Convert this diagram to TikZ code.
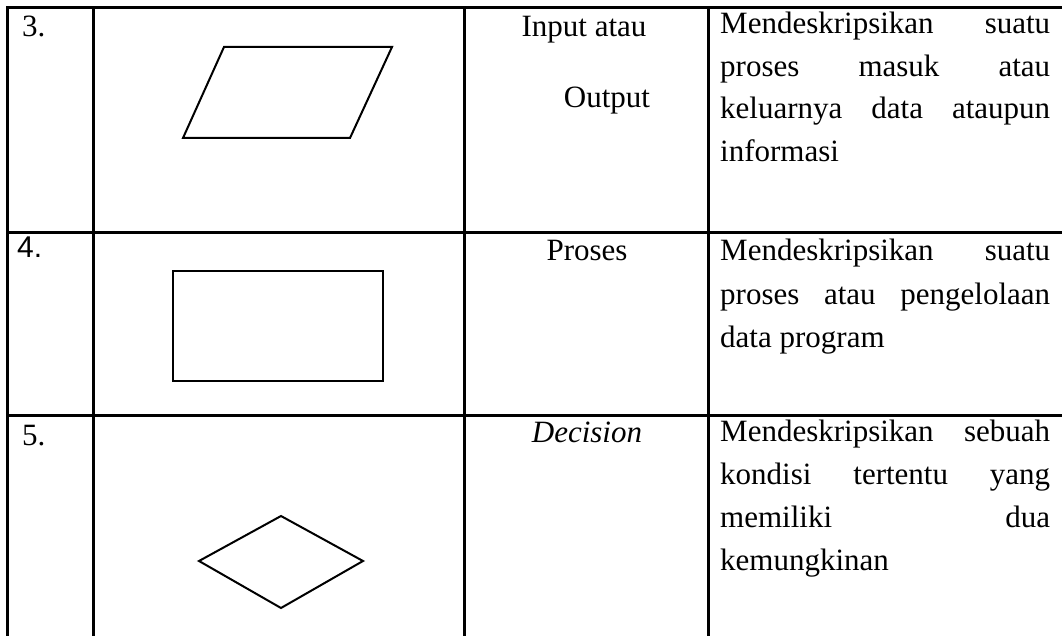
\documentclass[tikz,border=0pt]{standalone}
\usepackage{fontspec}
\setmainfont{Liberation Serif}
\newfontfamily\arialfont{Liberation Sans}
\begin{document}
\begin{tikzpicture}[x=1pt,y=-1pt,
  grid/.style={line width=3pt,line cap=rect},
  shapeline/.style={line width=2pt,line join=miter},
  txt/.style={inner sep=0pt,font=\fontsize{31}{43}\selectfont},
  numtxt/.style={txt,anchor=base west},
  ctxt/.style={txt,anchor=base},
  desc/.style={txt,anchor=base west}]
\useasboundingbox (0,0) rectangle (1062,636);
% table grid
\draw[grid] (7,8) -- (1064,8);
\draw[grid] (7,233) -- (1064,233);
\draw[grid] (7,415) -- (1064,415);
\draw[grid] (7,8) -- (7,640);
\draw[grid] (93,8) -- (93,640);
\draw[grid] (464,8) -- (464,640);
\draw[grid] (708,8) -- (708,640);
% column 1
\node[numtxt] (n3) at (22,37) {3.};
\node[numtxt,font=\arialfont\fontsize{30}{40}\selectfont] (n4) at (17,258) {4.};
\node[numtxt] (n5) at (22,445) {5.};
% column 2 shapes
\coordinate (p1) at (224,47);
\coordinate (p2) at (392,47);
\coordinate (p3) at (350,138);
\coordinate (p4) at (183,138);
\draw[shapeline] (p1) -- (p2) -- (p3) -- (p4) -- cycle;
\coordinate (r1) at (173,271);
\coordinate (r2) at (383,381);
\draw[shapeline] (r1) rectangle (r2);
\coordinate (d1) at (199,561);
\coordinate (d2) at (281,516);
\coordinate (d3) at (363,561);
\coordinate (d4) at (281,608);
\draw[shapeline] (d1) -- (d2) -- (d3) -- (d4) -- cycle;
% column 3
\node[ctxt] (io1) at (584,37) {Input atau};
\node[ctxt] (io2) at (607,108) {Output};
\node[ctxt] (pr) at (587,261) {Proses};
\node[ctxt] (dc) at (587,442) {\itshape Decision};
% column 4
\node[desc] (a1) at (720,34) {\hbox to 330pt{Mendeskripsikan\hfill suatu}};
\node[desc] (a2) at (720,77) {\hbox to 330pt{proses\hfill masuk\hfill atau}};
\node[desc] (a3) at (720,119) {\hbox to 330pt{keluarnya\hfill data\hfill ataupun}};
\node[desc] (a4) at (720,162) {informasi};
\node[desc] (b1) at (720,261) {\hbox to 330pt{Mendeskripsikan\hfill suatu}};
\node[desc] (b2) at (720,304) {\hbox to 330pt{proses\hfill atau\hfill pengelolaan}};
\node[desc] (b3) at (720,347) {data program};
\node[desc] (c1) at (720,441) {\hbox to 330pt{Mendeskripsikan\hfill sebuah}};
\node[desc] (c2) at (720,484) {\hbox to 330pt{kondisi\hfill tertentu\hfill yang}};
\node[desc] (c3) at (720,527) {\hbox to 330pt{memiliki\hfill dua}};
\node[desc] (c4) at (720,570) {kemungkinan};
\end{tikzpicture}
\end{document}
